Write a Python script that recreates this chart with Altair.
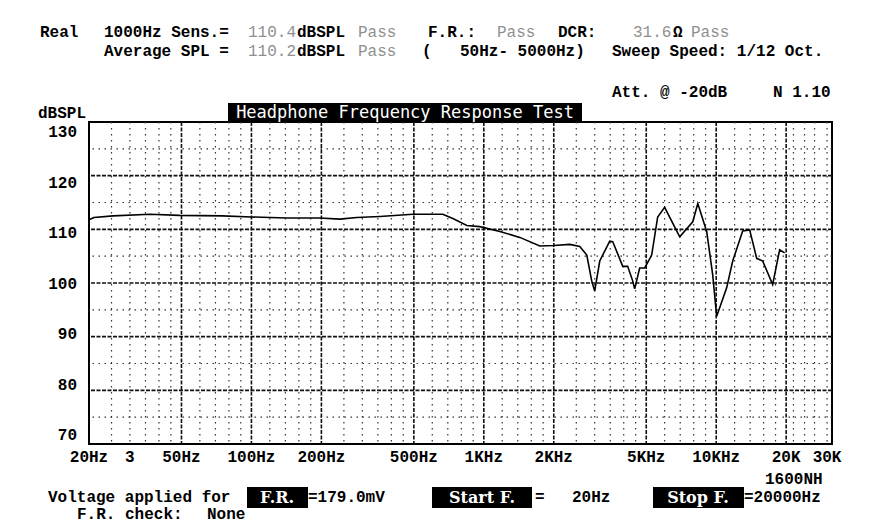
import altair as alt
import pandas as pd

# ---------------- data ----------------
freq_hz = [20, 21, 25.4, 36.6, 49, 75, 100, 142, 197, 240, 284, 357, 495, 666, 736,
           845, 961, 1172, 1429, 1741, 2000, 2344, 2588, 2774, 2912, 3000, 3154, 3482,
           3588, 3962, 4160, 4371, 4459, 4685, 4925, 5277, 5600, 6000, 6966, 7927, 8333,
           9100, 9660, 10048, 11092, 11776, 13000, 13932, 14934, 15852, 17500, 18750, 19700]
spl_db = [111.8, 112.2, 112.5, 112.8, 112.6, 112.5, 112.3, 112.1, 112.1, 111.9, 112.2,
          112.4, 112.8, 112.8, 112.0, 110.7, 110.5, 109.6, 108.5, 106.9, 107.0, 107.2,
          106.8, 105.2, 100.4, 98.5, 104.1, 107.8, 107.7, 103.1, 103.1, 100.4, 98.9,
          102.8, 102.8, 105.2, 112.3, 114.1, 108.6, 111.4, 114.8, 109.6, 101.5, 93.8,
          99.1, 104.1, 109.7, 109.9, 104.6, 104.1, 99.7, 106.2, 105.6]

x_tick_values = [20, 30, 50, 100, 200, 500, 1000, 2000, 5000, 10000, 20000, 30000]
x_tick_labels = ["20Hz", "3", "50Hz", "100Hz", "200Hz", "500Hz", "1KHz", "2KHz",
                 "5KHz", "10KHz", "20K", "30K"]
y_tick_values = [130, 120, 110, 100, 90, 80, 70]

major_freqs = [50, 100, 200, 500, 1000, 2000, 5000, 10000, 20000]
minor_freqs = [25, 30, 35, 40, 45, 60, 70, 80, 90, 120, 140, 160, 180,
               250, 300, 350, 400, 450, 600, 700, 800, 900, 1200, 1400, 1600, 1800,
               2500, 3000, 3500, 4000, 4500, 6000, 7000, 8000, 9000,
               12000, 14000, 16000, 18000, 21500, 24000, 26500, 30000]
major_db = [80, 90, 100, 110, 120]
minor_db = [75, 85, 95, 105, 115, 125]

# ---------------- layout / style ----------------
W, H = 743, 322
XDOM = [20, 31500]
YDOM = [70, 130]
MONO = "Liberation Mono"
GRAY = "#8f8f8f"

xs = alt.Scale(type="log", domain=XDOM, nice=False)
ys = alt.Scale(domain=YDOM, nice=False, zero=False)

minor_v = alt.Chart(pd.DataFrame({"f": minor_freqs})).mark_rule(
    color="#333333", strokeWidth=1.2, strokeDash=[1.5, 4.5]
).encode(x=alt.X("f:Q", scale=xs, axis=None))

minor_h = alt.Chart(pd.DataFrame({"d": minor_db})).mark_rule(
    color="#333333", strokeWidth=1.2, strokeDash=[1.5, 4.5]
).encode(y=alt.Y("d:Q", scale=ys, axis=None))

major_v = alt.Chart(pd.DataFrame({"f": major_freqs})).mark_rule(
    color="#111111", strokeWidth=1.6, strokeDash=[4, 1.5]
).encode(x=alt.X("f:Q", scale=xs, axis=None))

major_h = alt.Chart(pd.DataFrame({"d": major_db})).mark_rule(
    color="#111111", strokeWidth=1.6, strokeDash=[4, 1.5]
).encode(y=alt.Y("d:Q", scale=ys, axis=None))

curve = alt.Chart(pd.DataFrame({"f": freq_hz, "d": spl_db})).mark_line(
    color="black", strokeWidth=1.6
).encode(
    x=alt.X("f:Q", scale=xs, axis=None),
    y=alt.Y("d:Q", scale=ys, axis=None),
)

xlabels = alt.Chart(pd.DataFrame({"f": x_tick_values, "lab": x_tick_labels})).mark_text(
    align="center", baseline="middle", font=MONO, fontWeight="bold", fontSize=16,
    color="black"
).encode(
    x=alt.X("f:Q", scale=xs, axis=None),
    y=alt.value(335),
    text="lab:N",
)

ylabels = alt.Chart(pd.DataFrame({"v": y_tick_values})).mark_text(
    align="right", baseline="middle", font=MONO, fontWeight="bold", fontSize=16,
    color="black"
).encode(
    y=alt.Y("v:Q", scale=alt.Scale(domain=YDOM, range=[313, 10], nice=False, zero=False),
            axis=None),
    x=alt.value(-12),
    text=alt.Text("v:Q"),
)


def txt(s, x, y, color="black", weight="bold", size=16, font=MONO, align="left"):
    return alt.Chart(pd.DataFrame({"t": [s]})).mark_text(
        align=align, baseline="middle", font=font, fontWeight=weight,
        fontSize=size, color=color
    ).encode(text="t:N", x=alt.value(x), y=alt.value(y))


def box(x1, x2, y1, y2):
    return alt.Chart(pd.DataFrame({"t": [""]})).mark_rect(color="black").encode(
        x=alt.value(x1), x2=alt.value(x2), y=alt.value(y1), y2=alt.value(y2))


L1, L2 = -90, -71
F1, F2 = 375, 392
texts = [
    txt("Real", -49, L1),
    txt("1000Hz Sens.=", 15, L1),
    txt("110.4", 159, L1, color=GRAY, weight="normal"),
    txt("dBSPL", 208, L1),
    txt("Pass", 269, L1, color=GRAY, weight="normal"),
    txt("F.R.:", 339, L1),
    txt("Pass", 408, L1, color=GRAY, weight="normal"),
    txt("DCR:", 469, L1),
    txt("31.6", 544, L1, color=GRAY, weight="normal"),
    txt("Ω", 584, L1),
    txt("Pass", 602, L1, color=GRAY, weight="normal"),
    txt("Average SPL =", 15, L2),
    txt("110.2", 159, L2, color=GRAY, weight="normal"),
    txt("dBSPL", 208, L2),
    txt("Pass", 269, L2, color=GRAY, weight="normal"),
    txt("(", 333, L2),
    txt("50Hz- 5000Hz)", 371, L2),
    txt("Sweep Speed: 1/12 Oct.", 523, L2),
    txt("Att. @ -20dB", 523, -30),
    txt("N 1.10", 684, -30),
    txt("dBSPL", -51, -9),
    box(139, 493, -19, 0),
    txt("Headphone Frequency Response Test", 316, -9, color="white", weight="normal",
        size=17, font="DejaVu Sans Mono", align="center"),
    txt("1600NH", 676, 357),
    # footer
    txt("Voltage applied for", -41, F1),
    box(158, 219, F1 - 10, F1 + 11),
    txt("F.R.", 188, F1 + 1, color="white", font="DejaVu Serif", size=16, align="center"),
    txt("=179.0mV", 219, F1),
    box(343, 443, F1 - 10, F1 + 11),
    txt("Start F.", 393, F1 + 1, color="white", font="DejaVu Serif", size=16, align="center"),
    txt("=", 446, F1),
    txt("20Hz", 483, F1),
    box(564, 655, F1 - 10, F1 + 11),
    txt("Stop F.", 609, F1 + 1, color="white", font="DejaVu Serif", size=16, align="center"),
    txt("=20000Hz", 655, F1),
    txt("F.R. check:", -12, F2),
    txt("None", 118, F2),
]

chart = alt.layer(
    minor_v, minor_h, major_v, major_h, curve, xlabels, ylabels, *texts
).resolve_scale(y="independent").properties(
    width=W, height=H,
    autosize=alt.AutoSizeParams(type="none"),
    padding={"left": 81, "top": 114, "right": 40, "bottom": 80},
    background="white",
).configure_view(stroke="black", strokeWidth=2)

chart.save("out.html", embed_options={"renderer": "svg", "actions": False})
